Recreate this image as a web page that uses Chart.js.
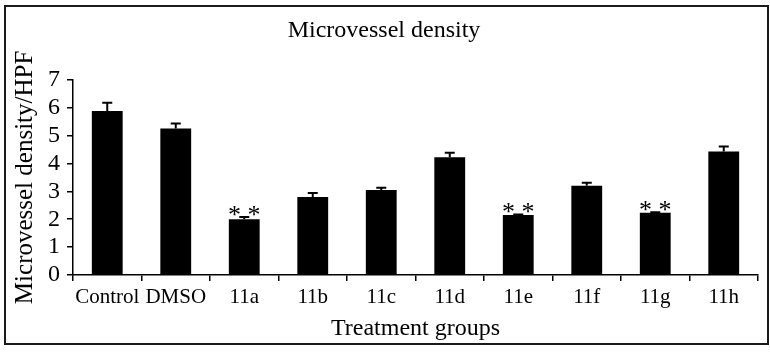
<!DOCTYPE html>
<html>
<head>
<meta charset="utf-8">
<script src="https://cdn.jsdelivr.net/npm/chart.js@4"></script>
<style>
  body { margin: 0; background: #fff; }
  #wrap { position: relative; width: 770px; height: 358px; }
  #frame { position: absolute; left: 4px; top: 5px; width: 761px; height: 336px; border: 2px solid #1a1a1a; }
  #chart { position: absolute; left: 0; top: 0; }
</style>
</head>
<body>
<div id="wrap">
  <div id="frame"></div>
  <canvas id="chart" width="770" height="358"></canvas>
</div>
<script>
const groups = ['Control', 'DMSO', '11a', '11b', '11c', '11d', '11e', '11f', '11g', '11h'];
const density = [5.88, 5.25, 2.0, 2.8, 3.05, 4.22, 2.15, 3.2, 2.23, 4.43];
const errors = [0.3, 0.18, 0.08, 0.14, 0.08, 0.16, 0.02, 0.11, 0.02, 0.18];
const marks = ['', '', '**', '', '', '', '**', '', '**', ''];
const yTicks = [0, 1, 2, 3, 4, 5, 6, 7];

const serif = 'Liberation Serif';

// error bars and significance stars drawn on top of the bars
const errorBars = {
  id: 'errorBars',
  afterDatasetsDraw(chart) {
    const ctx = chart.ctx;
    const y = chart.scales.y;
    const meta = chart.getDatasetMeta(0);
    ctx.save();
    ctx.strokeStyle = '#000';
    ctx.lineWidth = 2;
    meta.data.forEach((bar, i) => {
      const top = y.getPixelForValue(density[i] + errors[i]);
      ctx.beginPath();
      ctx.moveTo(bar.x, bar.y);
      ctx.lineTo(bar.x, top);
      ctx.moveTo(bar.x - 5, top);
      ctx.lineTo(bar.x + 5, top);
      ctx.stroke();
      if (marks[i]) {
        ctx.fillStyle = '#000';
        ctx.font = '26px ' + serif;
        ctx.textAlign = 'center';
        ctx.textBaseline = 'alphabetic';
        ctx.fillText(marks[i].split('').join(' '), bar.x, top + 6);
      }
    });
    ctx.restore();
  }
};

new Chart(document.getElementById('chart'), {
  type: 'bar',
  data: {
    labels: groups,
    datasets: [{
      data: density,
      backgroundColor: '#000',
      borderWidth: 0,
      barPercentage: 0.9,
      categoryPercentage: 0.5,
    }]
  },
  options: {
    responsive: false,
    animation: false,
    layout: { padding: { left: 10, right: 12, top: 12, bottom: 15 } },
    plugins: {
      legend: { display: false },
      tooltip: { enabled: false },
      title: {
        display: true,
        text: 'Microvessel density',
        color: '#000',
        font: { family: serif, size: 24, weight: 'normal' },
        padding: { top: 4, bottom: 35 },
      },
    },
    scales: {
      x: {
        grid: { display: true, drawOnChartArea: false, offset: true, tickLength: 6, color: '#000', lineWidth: 1.5 },
        border: { display: true, color: '#000', width: 1.5 },
        ticks: { color: '#000', font: { family: serif, size: 21 }, padding: 4, maxRotation: 0, autoSkip: false },
        title: {
          display: true,
          text: 'Treatment groups',
          color: '#000',
          font: { family: serif, size: 24 },
          padding: 0,
        },
      },
      y: {
        min: 0,
        max: 7,
        afterBuildTicks: (scale) => { scale.ticks = yTicks.map(v => ({ value: v })); },
        afterFit: (scale) => { scale.width = 63; },
        grid: { display: true, drawOnChartArea: false, tickLength: 6, color: '#000', lineWidth: 1.5 },
        border: { display: true, color: '#000', width: 1.5 },
        ticks: { color: '#000', font: { family: serif, size: 24 }, padding: 7, autoSkip: false },
        title: {
          display: true,
          text: 'Microvessel density/HPF',
          color: '#000',
          font: { family: serif, size: 25 },
          padding: 0,
        },
      },
    },
  },
  plugins: [errorBars],
});
</script>
</body>
</html>
